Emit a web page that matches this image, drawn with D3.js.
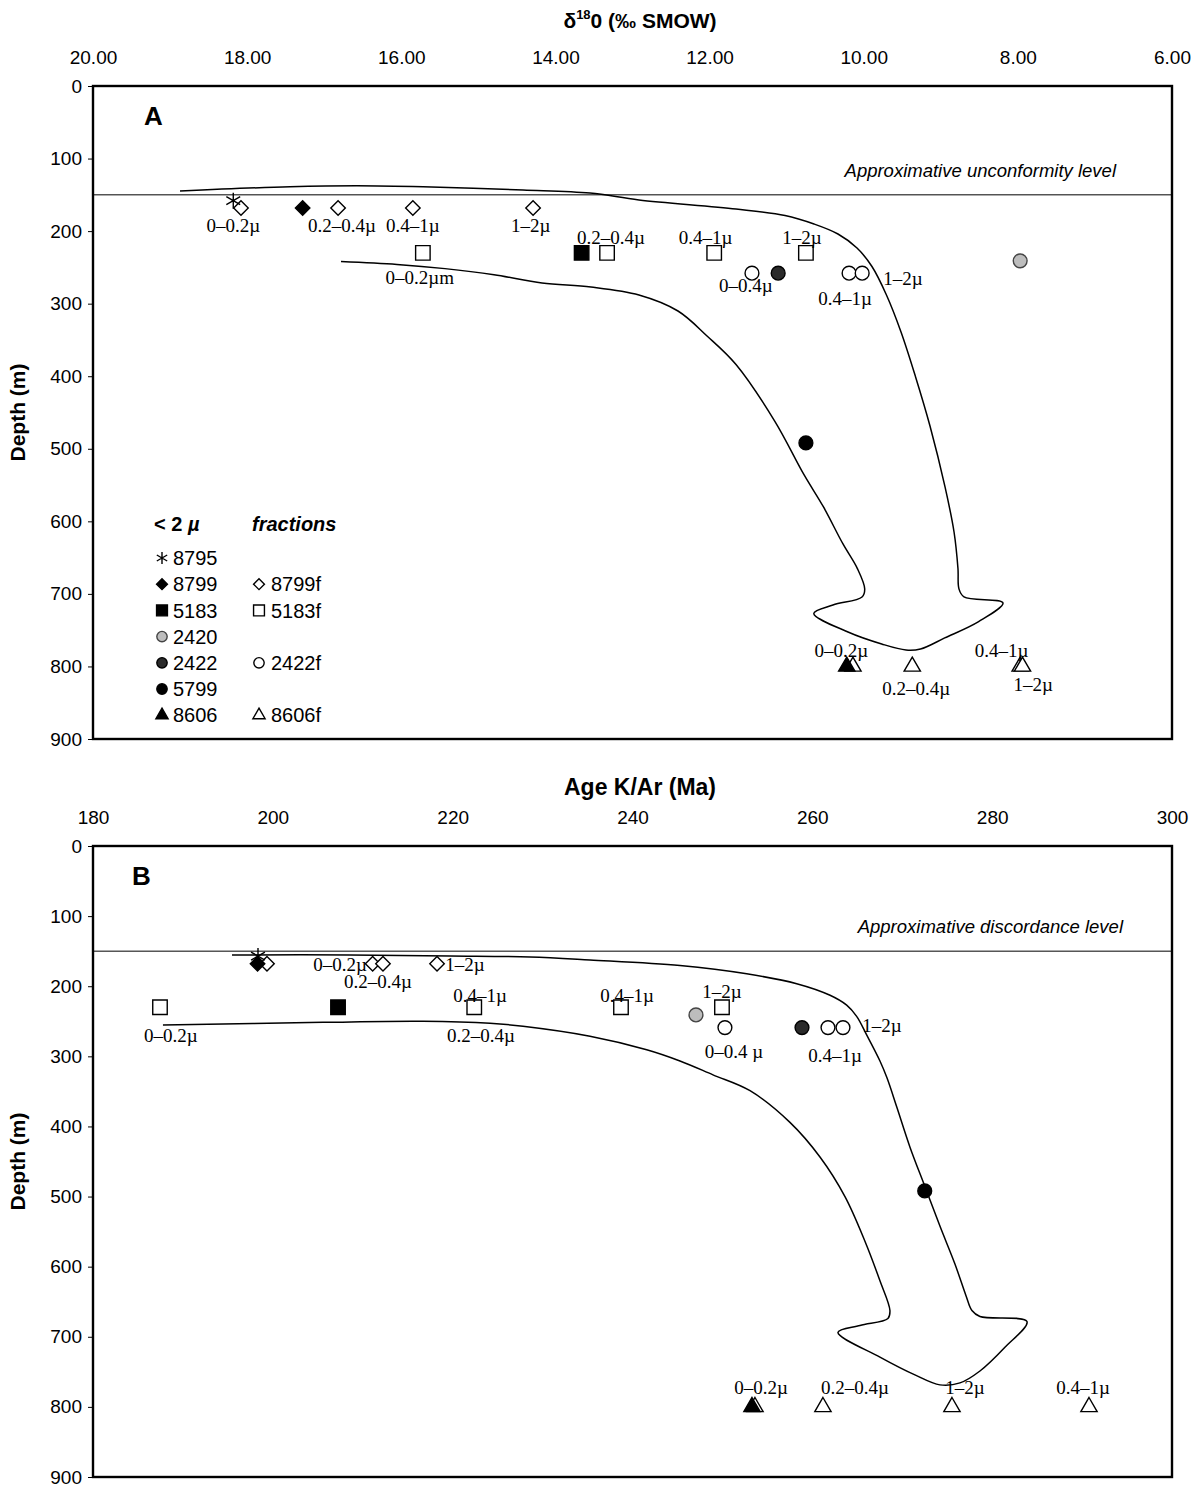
<!DOCTYPE html>
<html><head><meta charset="utf-8">
<script src="https://cdn.jsdelivr.net/npm/d3@7"></script>
<style>body{margin:0;background:#fff}</style></head>
<body>
<svg id="c" width="1202" height="1490"></svg>
<script>
// ---------- DATA ----------
// Panel A : delta18O (per mil SMOW) vs depth (m)
const ticksA = [20, 18, 16, 14, 12, 10, 8, 6];
const depthTicks = [0, 100, 200, 300, 400, 500, 600, 700, 800, 900];
const A_8795  = [[18.18, 158]];
const A_8799  = [[17.28, 168]];
const A_8799f = [[18.08, 168], [16.82, 168], [15.85, 168], [14.29, 168]];
const A_5183  = [[13.66, 230]];
const A_5183f = [[15.72, 230], [13.33, 230], [11.94, 230], [10.75, 230]];
const A_2420  = [[7.97, 241]];
const A_2422  = [[11.11, 258]];
const A_2422f = [[11.45, 258], [10.19, 258], [10.02, 258]];
const A_5799  = [[10.75, 492]];
const A_8606  = [[10.22, 800]];
const A_8606f = [[10.14, 800], [9.37, 800], [7.97, 800], [7.94, 800]];
const A_labels = [
  ["0\u20130.2\u00b5", 18.18, 191.6], ["0.2\u20130.4\u00b5", 16.77, 191.6], ["0.4\u20131\u00b5", 15.85, 191.6],
  ["1\u20132\u00b5", 14.32, 191.6], ["0\u20130.2\u00b5m", 15.76, 263.2], ["0.2\u20130.4\u00b5", 13.28, 208.1],
  ["0.4\u20131\u00b5", 12.05, 208.1], ["1\u20132\u00b5", 10.80, 208.1], ["0\u20130.4\u00b5", 11.53, 274.3],
  ["1\u20132\u00b5", 9.49, 264.6], ["0.4\u20131\u00b5", 10.24, 292.2], ["0\u20130.2\u00b5", 10.29, 777.3],
  ["0.2\u20130.4\u00b5", 9.32, 829.7], ["0.4\u20131\u00b5", 8.21, 777.3], ["1\u20132\u00b5", 7.80, 824.1]
];
const A_arrow = [
  [18.871,144.7],[17.444,138.8],[16.575,137.4],[15.718,138.8],[14.421,143.3],[13.551,147.5],[12.916,157.1],
  [11.657,169.5],[11.021,178.5],[10.645,190.2],[10.334,204.0],[10.087,223.3],[9.893,248.8],[9.705,288.0],
  [9.516,339.0],[9.327,401.0],[9.140,468.6],[8.945,552.6],[8.828,614.7],[8.777,665.1],[8.764,693.2],
  [8.699,704.2],[8.193,712.5],[8.509,738.2],[8.949,760.7],[9.263,775.9],[9.451,777.3],[9.767,769.0],
  [10.204,752.5],[10.648,727.0],[10.399,715.3],[10.022,704.2],[9.987,693.2],[10.082,665.1],[10.269,631.2],
  [10.522,580.2],[10.775,535.7],[11.151,462.5],[11.657,383.8],[12.033,344.5],[12.410,310.1],[12.916,288.0],
  [13.539,277.0],[14.174,271.5],[14.797,260.1],[15.433,251.7],[16.056,246.0],[16.782,242.0]
];

// Panel B : K/Ar age (Ma) vs depth (m)
const ticksB = [180, 200, 220, 240, 260, 280, 300];
const B_8795  = [[198.35, 157]];
const B_8799  = [[198.3, 168]];
const B_8799f = [[199.35, 168], [211.1, 168], [212.25, 168], [218.26, 168]];
const B_5183  = [[207.25, 230]];
const B_5183f = [[187.45, 230], [222.4, 230], [238.72, 230], [249.95, 230]];
const B_2420  = [[247.06, 241]];
const B_2422  = [[258.85, 259]];
const B_2422f = [[250.28, 259], [261.74, 259], [263.41, 259]];
const B_5799  = [[272.5, 492]];
const B_8606  = [[253.29, 800]];
const B_8606f = [[253.62, 800], [261.18, 800], [275.53, 800], [290.77, 800]];
const B_labels = [
  ["0\u20130.2\u00b5", 207.47, 168.1], ["0.2\u20130.4\u00b5", 211.70, 193.6], ["1\u20132\u00b5", 221.37, 168.1],
  ["0.4\u20131\u00b5", 223.04, 213.3], ["0\u20130.2\u00b5", 188.67, 269.9], ["0.2\u20130.4\u00b5", 223.15, 269.9],
  ["0.4\u20131\u00b5", 239.39, 213.3], ["1\u20132\u00b5", 249.95, 207.7], ["0\u20130.4 \u00b5", 251.29, 292.5],
  ["1\u20132\u00b5", 267.74, 255.7], ["0.4\u20131\u00b5", 262.52, 298.1], ["0\u20130.2\u00b5", 254.29, 772.8],
  ["0.2\u20130.4\u00b5", 264.74, 772.8], ["1\u20132\u00b5", 276.98, 772.8], ["0.4\u20131\u00b5", 290.10, 772.8]
];
const B_arrow = [
  [195.46,155.4],[208.58,155.4],[219.70,156.8],[228.60,158.2],[235.27,162.5],[245.28,170.5],[252.70,182.3],
  [258.26,196.4],[261.97,212.9],[263.82,227.0],[264.93,243.0],[266.04,269.4],[267.52,306.6],[268.30,330.6],
  [269.41,373.0],[270.86,429.5],[272.53,486.0],[274.20,542.5],[275.86,596.2],[277.09,641.4],[277.75,662.6],
  [278.64,671.1],[283.87,678.2],[281.42,714.9],[278.64,748.8],[276.42,765.8],[274.19,768.6],[271.41,754.4],
  [267.52,729.0],[262.85,693.7],[265.30,683.8],[268.41,673.9],[268.63,662.6],[267.52,620.2],[265.85,563.7],
  [263.63,500.1],[260.85,443.6],[257.51,394.2],[253.07,349.0],[248.95,326.4],[245.28,306.6],[241.58,290.6],
  [235.27,271.3],[227.82,257.1],[224.15,252.9],[216.70,250.1],[205.58,251.5],[187.78,255.3]
];
const levelDepth = 150;
const legendLeft = ["8795", "8799", "5183", "2420", "2422", "5799", "8606"];
const legendRight = ["", "8799f", "5183f", "", "2422f", "", "8606f"];

// ---------- DRAWING ----------
const svg = d3.select("#c");
const SANS = "'Liberation Sans', Arial, sans-serif";
const SERIF = "'Liberation Serif', 'Times New Roman', serif";

const styles = {
  "8795":  {shape: "star"},
  "8799":  {shape: "diamond", fill: "#000"},
  "8799f": {shape: "diamond", fill: "#fff"},
  "5183":  {shape: "square", fill: "#000"},
  "5183f": {shape: "square", fill: "#fff"},
  "2420":  {shape: "circle", fill: "#bdbdbd", stroke: "#444"},
  "2422":  {shape: "circle", fill: "#2a2a2a"},
  "2422f": {shape: "circle", fill: "#fff"},
  "5799":  {shape: "circle", fill: "#000"},
  "8606":  {shape: "triangle", fill: "#000"},
  "8606f": {shape: "triangle", fill: "#fff"}
};

function symPath(shape, scale) {
  const s = scale || 1;
  if (shape === "diamond") return d3.symbol(d3.symbolSquare, 105 * s * s)();
  if (shape === "square") return d3.symbol(d3.symbolSquare, 210 * s * s)();
  if (shape === "circle") return d3.symbol(d3.symbolCircle, 150 * s * s)();
  if (shape === "triangle") return d3.symbol(d3.symbolTriangle, 115 * s * s)();
  const r = 8 * s;
  const a = r * Math.cos(Math.PI / 6), b = r * Math.sin(Math.PI / 6);
  return `M0,${-r}L0,${r}M${-a},${-b}L${a},${b}M${-a},${b}L${a},${-b}`;
}

function drawMark(g, x, y, key, scale) {
  const st = styles[key];
  const p = g.append("path").attr("d", symPath(st.shape, scale))
    .attr("stroke", st.stroke || "#000").attr("stroke-width", 1.4)
    .attr("fill", st.shape === "star" ? "none" : st.fill);
  let t = `translate(${x},${y})`;
  if (st.shape === "diamond") t += " rotate(45)";
  p.attr("transform", t);
}

function panel(cfg) {
  const x = d3.scaleLinear().domain(cfg.xdom).range([93, 1172]);
  const y = d3.scaleLinear().domain([0, 900]).range([cfg.top, cfg.bottom]);
  const g = svg.append("g");

  // axes
  const ax = g.append("g").attr("transform", `translate(0,${cfg.top})`)
    .call(d3.axisTop(x).tickValues(cfg.xticks).tickFormat(cfg.fmt).tickSize(0).tickPadding(22));
  ax.select(".domain").remove();
  ax.selectAll("text").attr("font-family", SANS).attr("font-size", 19).attr("fill", "#000");

  const ay = g.append("g").attr("transform", "translate(93,0)")
    .call(d3.axisLeft(y).tickValues(depthTicks).tickSize(5).tickPadding(6));
  ay.select(".domain").remove();
  ay.selectAll("line").attr("stroke", "#000");
  ay.selectAll("text").attr("font-family", SANS).attr("font-size", 19).attr("fill", "#000");

  // frame
  g.append("rect").attr("x", 93).attr("y", cfg.top).attr("width", 1172 - 93).attr("height", cfg.bottom - cfg.top)
    .attr("fill", "none").attr("stroke", "#000").attr("stroke-width", 2.4);

  // titles
  cfg.title(g);
  g.append("text").attr("transform", `translate(25,${(cfg.top + cfg.bottom) / 2}) rotate(-90)`)
    .attr("text-anchor", "middle").attr("font-family", SANS).attr("font-weight", "bold").attr("font-size", 21)
    .text("Depth (m)");
  g.append("text").attr("x", cfg.letterX).attr("y", cfg.top + 39).attr("font-family", SANS)
    .attr("font-weight", "bold").attr("font-size", 26).text(cfg.letter);

  // level line
  g.append("line").attr("x1", 93).attr("x2", 1172).attr("y1", y(levelDepth)).attr("y2", y(levelDepth))
    .attr("stroke", "#000").attr("stroke-width", 1);
  g.append("text").attr("x", cfg.levelX).attr("y", y(levelDepth) - 18).attr("text-anchor", "end")
    .attr("font-family", SANS).attr("font-style", "italic").attr("font-size", 18.5).text(cfg.levelText);

  // arrow
  g.append("path").datum(cfg.arrow)
    .attr("d", d3.line().x(d => x(d[0])).y(d => y(d[1])).curve(d3.curveCatmullRom.alpha(0.5)))
    .attr("fill", "none").attr("stroke", "#000").attr("stroke-width", 1.5);

  // marks
  cfg.series.forEach(([key, arr]) => {
    arr.forEach(d => drawMark(g, x(d[0]), y(d[1]), key));
  });

  // labels
  g.selectAll(".lab").data(cfg.labels).enter().append("text")
    .attr("x", d => x(d[1])).attr("y", d => y(d[2])).attr("dy", "0.35em")
    .attr("text-anchor", "middle").attr("font-family", SERIF).attr("font-size", 19).text(d => d[0]);
  return g;
}

const gA = panel({
  xdom: [20, 6], xticks: ticksA, fmt: d3.format(".2f"), top: 86, bottom: 739,
  letter: "A", letterX: 144, levelX: 1116, levelText: "Approximative unconformity level",
  arrow: A_arrow, labels: A_labels,
  series: [["8799f", A_8799f], ["8795", A_8795], ["8799", A_8799], ["5183f", A_5183f], ["5183", A_5183],
    ["2420", A_2420], ["2422f", A_2422f], ["2422", A_2422], ["5799", A_5799], ["8606f", A_8606f], ["8606", A_8606]],
  title: g => {
    const t = g.append("text").attr("x", 640).attr("y", 28).attr("text-anchor", "middle")
      .attr("font-family", SANS).attr("font-weight", "bold").attr("font-size", 21);
    t.append("tspan").text("\u03b4");
    t.append("tspan").attr("dy", -9).attr("font-size", 13).text("18");
    t.append("tspan").attr("dy", 9).text("0 (\u2030 SMOW)");
  }
});

const gB = panel({
  xdom: [180, 300], xticks: ticksB, fmt: d3.format("d"), top: 846, bottom: 1477,
  letter: "B", letterX: 132, levelX: 1123, levelText: "Approximative discordance level",
  arrow: B_arrow, labels: B_labels,
  series: [["8799f", B_8799f], ["8795", B_8795], ["8799", B_8799], ["5183f", B_5183f], ["5183", B_5183],
    ["2420", B_2420], ["2422f", B_2422f], ["2422", B_2422], ["5799", B_5799], ["8606f", B_8606f], ["8606", B_8606]],
  title: g => {
    g.append("text").attr("x", 640).attr("y", 795).attr("text-anchor", "middle")
      .attr("font-family", SANS).attr("font-weight", "bold").attr("font-size", 23).text("Age K/Ar (Ma)");
  }
});

// legend (panel A)
const lg = svg.append("g").attr("font-family", SANS).attr("font-size", 20);
const h1 = lg.append("text").attr("x", 154).attr("y", 531).attr("font-weight", "bold");
h1.append("tspan").text("< 2 ");
h1.append("tspan").attr("font-style", "italic").text("\u00b5");
lg.append("text").attr("x", 252).attr("y", 531).attr("font-weight", "bold").attr("font-style", "italic").text("fractions");
legendLeft.forEach((k, i) => {
  const yy = 558 + i * 26.2;
  drawMark(lg, 162, yy, k, 0.75);
  lg.append("text").attr("x", 173).attr("y", yy).attr("dy", "0.36em").text(k);
  const r = legendRight[i];
  if (r) {
    drawMark(lg, 259, yy, r, 0.75);
    lg.append("text").attr("x", 271).attr("y", yy).attr("dy", "0.36em").text(r);
  }
});
</script>
</body></html>
